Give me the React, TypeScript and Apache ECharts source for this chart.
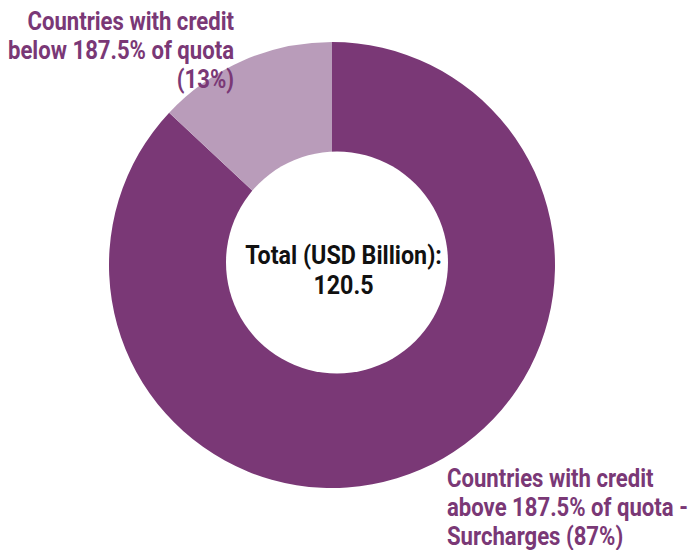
import React, { useEffect, useRef } from "react";
import * as echarts from "echarts";

const categories = [
  "Countries with credit above 187.5% of quota - Surcharges",
  "Countries with credit below 187.5% of quota",
];
const values = [104.8, 15.7]; // USD billion
const colors = ["#7A3876", "#B99CBA"];
const totalLabel = "Total (USD Billion):";
const aboveLabelLines = ["Countries with credit", "above 187.5% of quota -", "Surcharges"];
const belowLabelLines = ["Countries with credit", "below 187.5% of quota"];

export default function App() {
  const ref = useRef<HTMLDivElement>(null);
  useEffect(() => {
    if (!ref.current) return;
    const chart = echarts.init(ref.current, null, { renderer: "svg" });
    const total = values.reduce((a, b) => a + b, 0);
    const pct = values.map((v) => Math.round((v / total) * 100));
    const font = "Roboto, 'Noto Sans', sans-serif";
    const sx = 0.885;
    chart.setOption({
      animation: false,
      series: [
        {
          type: "pie",
          center: [332, 265],
          radius: [0, 223],
          startAngle: 90,
          clockwise: true,
          label: { show: false },
          labelLine: { show: false },
          emphasis: { disabled: true },
          silent: true,
          data: categories.map((c, i) => ({
            name: c,
            value: values[i],
            itemStyle: { color: colors[i], borderWidth: 0 },
          })),
        },
      ],
      graphic: [
        {
          type: "circle",
          shape: { cx: 337, cy: 262.5, r: 111 },
          style: { fill: "#ffffff" },
          silent: true,
          z: 10,
        },
        {
          type: "text",
          x: 343.5,
          y: 271,
          scaleX: 0.93,
          z: 11,
          style: {
            text: totalLabel + "\n" + total.toFixed(1),
            font: `bold 25px ${font}`,
            fill: "#111111",
            align: "center",
            verticalAlign: "middle",
            lineHeight: 30,
          },
        },
        {
          type: "text",
          x: 234,
          y: 7.5,
          scaleX: sx,
          z: 11,
          style: {
            text: [...belowLabelLines, `(${pct[1]}%)`].join("\n"),
            font: `bold 25px ${font}`,
            fill: colors[0],
            align: "right",
            verticalAlign: "top",
            lineHeight: 29,
          },
        },
        {
          type: "text",
          x: 447,
          y: 464.5,
          scaleX: sx,
          z: 11,
          style: {
            text: [
              aboveLabelLines[0],
              aboveLabelLines[1],
              `${aboveLabelLines[2]} (${pct[0]}%)`,
            ].join("\n"),
            font: `bold 25px ${font}`,
            fill: colors[0],
            align: "left",
            verticalAlign: "top",
            lineHeight: 29,
          },
        },
      ],
    });
    return () => chart.dispose();
  }, []);
  return <div ref={ref} style={{ width: 688, height: 550, position: "absolute", left: 0, top: 0 }} />;
}
